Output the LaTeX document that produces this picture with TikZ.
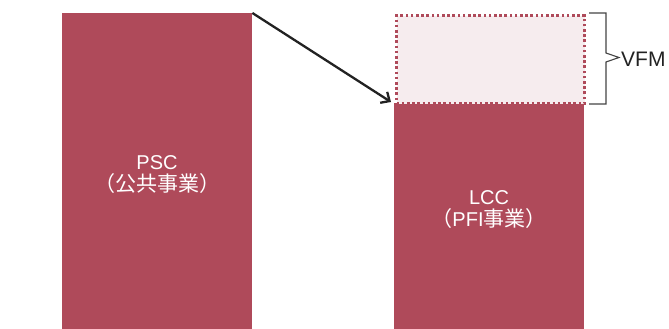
\documentclass[tikz,border=0pt]{standalone}
\usepackage{fontspec}
\setmainfont{Liberation Sans}
\newfontfamily\cjk{Noto Sans CJK JP}
\usetikzlibrary{arrows.meta,calc}
\definecolor{barred}{HTML}{AF4A5A}
\definecolor{lightpink}{HTML}{F6ECEE}
\definecolor{ink}{HTML}{222222}
\tikzset{
  bar/.style={fill=barred, draw=none, inner sep=0pt, anchor=north west},
  vfmbox/.style={fill=lightpink, draw=barred, line width=2.6pt, dash pattern=on 2.6pt off 2.6pt, inner sep=0pt, anchor=north west},
  label/.style={text=white, align=center, font=\fontsize{20}{22}\selectfont},
  cj/.style={},
  conn/.style={draw=ink, line width=2.3pt, -{Straight Barb[length=7pt,width=13pt,line width=2.3pt]}},
  brace/.style={draw=ink!85, line width=1.1pt}
}
\newcommand\cjkt{\cjk\fontsize{21}{22}\selectfont}
\begin{document}
\begin{tikzpicture}[x=1pt,y=-1pt]
\useasboundingbox (0,0) rectangle (669,329);
\node[bar, minimum width=190pt, minimum height=316pt] (psc) at (62,13) {};
\node[bar, minimum width=190pt, minimum height=226pt] (lcc) at (394,103) {};
\node[vfmbox, minimum width=188pt, minimum height=88pt] (vfm) at (395.3,14.3) {};
\node[label] (psct) at (157,175) {PSC\\{\cjkt （公共事業）}};
\node[label] (lcct) at (489,210) {LCC\\{\cjkt （}PFI{\cjkt 事業）}};
\coordinate (bt) at (589,13);
\coordinate (bb) at (589,104);
\path[brace] (bt) -- ++(17,0) -- (606,53) -- (619,57.5) -- (606,62) -- (606,104) -- (bb);
\node[anchor=west, inner sep=0pt, text=ink, font=\fontsize{21}{22}\selectfont] (vfmt) at (621,59) {VFM};
\path[conn] (psc.north east) -- ($(lcc.north west)+(-3,-1)$);
\end{tikzpicture}
\end{document}
